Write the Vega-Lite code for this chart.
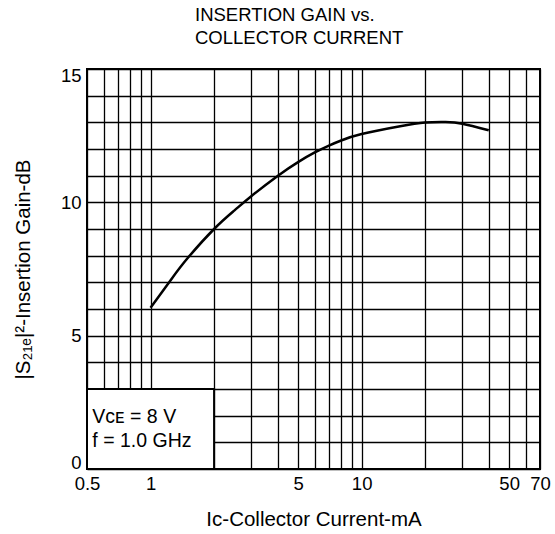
{
  "$schema": "https://vega.github.io/schema/vega-lite/v6.json",
  "width": 453,
  "height": 400,
  "autosize": "none",
  "padding": {"left": 87, "top": 69, "right": 15, "bottom": 65},
  "background": "white",
  "config": {
    "font": "Liberation Sans",
    "view": {"stroke": "black", "strokeWidth": 2},
    "axis": {
      "grid": true,
      "gridColor": "black",
      "gridWidth": 1.3,
      "gridOpacity": 1,
      "ticks": false,
      "domain": false,
      "labelFontSize": 18.5,
      "labelColor": "black",
      "titleFontSize": 20.5,
      "titleFontWeight": "normal",
      "titleColor": "black"
    }
  },
  "title": {
    "text": ["INSERTION GAIN vs.", "COLLECTOR CURRENT"],
    "anchor": "start",
    "frame": "group",
    "dx": 108,
    "offset": 19,
    "fontSize": 18.5,
    "fontWeight": "normal",
    "lineHeight": 23,
    "color": "black"
  },
  "encoding": {
    "x": {
      "field": "ic",
      "type": "quantitative",
      "scale": {"type": "log", "domain": [0.5, 70], "nice": false},
      "axis": {
        "title": "Iᴄ-Collector Current-mA",
        "values": [0.5, 0.6, 0.7, 0.8, 0.9, 1, 2, 3, 4, 5, 6, 7, 8, 9, 10, 20, 30, 40, 50, 60, 70],
        "labelExpr": "indexof([0.5, 1, 5, 10, 50, 70], datum.value) >= 0 ? format(datum.value, '~g') : ''",
        "labelPadding": 5,
        "titlePadding": 17,
        "labelFlush": false,
        "labelOverlap": false
      }
    },
    "y": {
      "field": "gain",
      "type": "quantitative",
      "scale": {"domain": [0, 15], "nice": false},
      "axis": {
        "title": "|S₂₁ₑ|²-Insertion Gain-dB",
        "values": [0, 1, 2, 3, 4, 5, 6, 7, 8, 9, 10, 11, 12, 13, 14, 15],
        "labelExpr": "datum.value % 5 === 0 ? datum.label : ''",
        "labelPadding": 6,
        "labelFlush": true,
        "labelFlushOffset": 3,
        "titlePadding": 27,
        "labelOverlap": false
      }
    }
  },
  "layer": [
    {
      "data": {
        "values": [
          {"ic": 1, "gain": 6.05},
          {"ic": 1.25, "gain": 7.1},
          {"ic": 1.5, "gain": 7.91},
          {"ic": 2, "gain": 9.0},
          {"ic": 2.5, "gain": 9.7},
          {"ic": 3, "gain": 10.23},
          {"ic": 4, "gain": 10.99},
          {"ic": 5, "gain": 11.51},
          {"ic": 6, "gain": 11.87},
          {"ic": 7, "gain": 12.13},
          {"ic": 8, "gain": 12.32},
          {"ic": 10, "gain": 12.56},
          {"ic": 15, "gain": 12.84},
          {"ic": 20, "gain": 12.99},
          {"ic": 25, "gain": 13.01},
          {"ic": 30, "gain": 12.95},
          {"ic": 40, "gain": 12.7}
        ]
      },
      "mark": {"type": "line", "color": "black", "strokeWidth": 2.5, "interpolate": "natural"}
    },
    {
      "data": {"values": [{"ic": 0.5, "ic2": 2, "gain": 0, "gain2": 3}]},
      "mark": {"type": "rect", "fill": "white", "stroke": "black", "strokeWidth": 2},
      "encoding": {
        "x2": {"field": "ic2"},
        "y2": {"field": "gain2"}
      }
    },
    {
      "data": {
        "values": [
          {"ic": 0.53, "gain": 1.72, "t": "Vᴄᴇ = 8 V"},
          {"ic": 0.53, "gain": 0.84, "t": "f = 1.0 GHz"}
        ]
      },
      "mark": {"type": "text", "align": "left", "baseline": "alphabetic", "fontSize": 19.5, "color": "black"},
      "encoding": {
        "text": {"field": "t"}
      }
    }
  ]
}
